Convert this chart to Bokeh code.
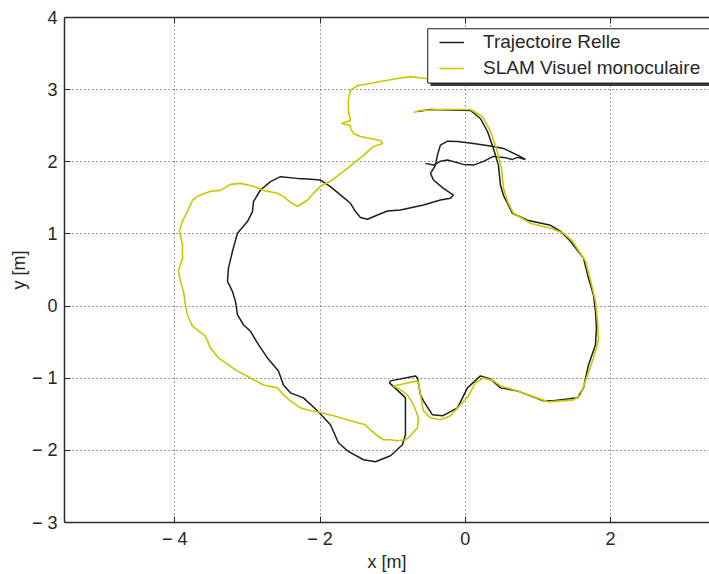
from bokeh.plotting import figure
from bokeh.models import (Range1d, LinearAxis, FixedTicker, Legend, LegendItem)
from bokeh.embed import file_html
from bokeh.resources import INLINE

# Ground-truth trajectory (x, y in metres)
real_x = [-0.548, -0.438, -0.342, -0.245, -0.025, 0.113, 0.251, 0.388, 0.526, 0.650,
          0.719, 0.829, 0.719, 0.526, 0.388, 0.113, -0.107, -0.245, -0.342, -0.383,
          -0.410, -0.479, -0.438, -0.300, -0.163, -0.204, -0.342, -0.576, -0.893, -1.072,
          -1.209, -1.347, -1.444, -1.512, -1.581, -1.691, -1.857, -1.994, -2.174, -2.311,
          -2.545, -2.683, -2.821, -2.917, -2.931, -3.000, -3.138, -3.207, -3.262, -3.275,
          -3.207, -3.165, -3.138, -3.055, -2.959, -2.848, -2.725, -2.573, -2.504, -2.408,
          -2.229, -2.036, -1.857, -1.747, -1.623, -1.402, -1.237, -1.030, -0.865, -0.824,
          -0.824, -0.851, -1.044, -1.030, -0.686, -0.658, -0.617, -0.576, -0.452, -0.314,
          -0.107, 0.030, 0.209, 0.347, 0.485, 0.719, 1.077, 1.215, 1.545, 1.628,
          1.697, 1.793, 1.807, 1.793, 1.766, 1.697, 1.628, 1.449, 1.311, 1.174,
          0.857, 0.650, 0.526, 0.485, 0.457, 0.388, 0.306, 0.209, 0.072, -0.479, -0.658]
real_y = [1.978, 1.954, 2.006, 2.024, 1.964, 1.954, 2.006, 2.075, 2.061, 2.033,
          2.061, 2.033, 2.093, 2.185, 2.213, 2.254, 2.282, 2.286, 2.231, 2.093,
          1.954, 1.840, 1.747, 1.632, 1.539, 1.494, 1.470, 1.401, 1.332, 1.318,
          1.263, 1.203, 1.227, 1.310, 1.425, 1.517, 1.656, 1.747, 1.761, 1.770,
          1.794, 1.725, 1.609, 1.448, 1.310, 1.171, 1.010, 0.757, 0.526, 0.342,
          0.203, 0.065, -0.120, -0.259, -0.350, -0.535, -0.719, -0.899, -1.093, -1.203,
          -1.272, -1.452, -1.646, -1.895, -2.006, -2.130, -2.158, -2.075, -1.923, -1.784,
          -1.272, -1.245, -1.065, -1.037, -0.968, -0.996, -1.231, -1.314, -1.508, -1.521,
          -1.411, -1.134, -0.968, -1.010, -1.134, -1.176, -1.314, -1.314, -1.272, -1.134,
          -0.816, -0.539, -0.304, -0.069, 0.152, 0.387, 0.664, 0.899, 1.037, 1.120,
          1.189, 1.286, 1.535, 1.674, 1.950, 2.185, 2.420, 2.600, 2.711, 2.725, 2.697]

# Monocular visual SLAM estimate (x, y in metres)
slam_x = [-0.713, -0.617, -0.342, 0.072, 0.237, 0.347, 0.430, 0.499, 0.526, 0.581,
          0.664, 0.898, 1.174, 1.353, 1.477, 1.656, 1.725, 1.793, 1.821, 1.835,
          1.766, 1.656, 1.587, 1.490, 1.146, 0.719, 0.485, 0.388, 0.251, 0.140,
          0.044, -0.066, -0.204, -0.342, -0.479, -0.576, -0.617, -0.645, -0.658, -0.989,
          -0.934, -0.796, -0.713, -0.645, -0.658, -0.755, -0.824, -0.934, -1.030, -1.127,
          -1.209, -1.306, -1.375, -1.485, -1.623, -1.815, -2.036, -2.132, -2.270, -2.408,
          -2.504, -2.587, -2.780, -2.959, -3.165, -3.399, -3.510, -3.579, -3.758, -3.826,
          -3.854, -3.882, -3.923, -3.950, -3.895, -3.895, -3.937, -3.895, -3.826, -3.758,
          -3.689, -3.510, -3.372, -3.234, -3.096, -2.917, -2.780, -2.587, -2.504, -2.408,
          -2.311, -2.174, -2.091, -1.994, -1.857, -1.623, -1.402, -1.264, -1.140, -1.168,
          -1.306, -1.444, -1.540, -1.581, -1.581, -1.705, -1.581, -1.609, -1.609, -1.581,
          -1.485, -1.306, -1.168, -0.934, -0.755, -0.548, -0.342]
slam_y = [2.683, 2.711, 2.725, 2.725, 2.628, 2.420, 2.185, 1.909, 1.632, 1.452,
          1.286, 1.148, 1.079, 1.010, 0.899, 0.622, 0.360, 0.069, -0.194, -0.470,
          -0.719, -1.037, -1.231, -1.300, -1.328, -1.176, -1.107, -1.037, -0.996, -1.065,
          -1.245, -1.369, -1.521, -1.577, -1.549, -1.452, -1.231, -1.065, -1.037, -1.107,
          -1.134, -1.231, -1.369, -1.549, -1.687, -1.798, -1.853, -1.867, -1.853, -1.853,
          -1.798, -1.715, -1.646, -1.618, -1.577, -1.521, -1.466, -1.452, -1.411, -1.314,
          -1.231, -1.134, -1.093, -0.996, -0.885, -0.719, -0.581, -0.415, -0.277, -0.124,
          0.014, 0.207, 0.346, 0.484, 0.664, 0.844, 1.037, 1.176, 1.314, 1.466,
          1.521, 1.591, 1.604, 1.687, 1.701, 1.660, 1.604, 1.563, 1.521, 1.438,
          1.383, 1.466, 1.563, 1.660, 1.729, 1.909, 2.089, 2.213, 2.254, 2.296,
          2.324, 2.351, 2.393, 2.462, 2.503, 2.531, 2.573, 2.697, 2.877, 2.988,
          3.057, 3.084, 3.112, 3.154, 3.181, 3.154, 3.154]

x_ticks = [-4, -2, 0, 2]
y_ticks = [-3, -2, -1, 0, 1, 2, 3, 4]
series_labels = ["Trajectoire Relle", "SLAM Visuel monoculaire"]

FONT = "Liberation Sans"
TXT = "#262626"
AX = "#2a2a2a"


def tick_text(v):
    return "\u2212 %d" % abs(v) if v < 0 else "%d" % v


p = figure(width=709, height=574, output_backend="svg", toolbar_location=None,
           x_range=Range1d(-5.52, 3.364), y_range=Range1d(-3, 4),
           x_axis_location=None, y_axis_location=None,
           min_border_left=64, min_border_right=0, min_border_top=17, min_border_bottom=50)
p.outline_line_color = None
p.background_fill_color = "white"
p.border_fill_color = "white"


def style_axis(ax, ticks):
    ax.ticker = FixedTicker(ticks=ticks)
    ax.major_label_overrides = {t: tick_text(t) for t in ticks}
    ax.minor_tick_line_color = None
    ax.major_tick_in = 6
    ax.major_tick_out = 0
    ax.axis_line_color = AX
    ax.axis_line_width = 1.5
    ax.major_tick_line_color = AX
    ax.major_tick_line_width = 1
    ax.major_label_text_font = FONT
    ax.major_label_text_font_size = "18px"
    ax.major_label_text_color = TXT
    ax.axis_label_text_font = FONT
    ax.axis_label_text_font_size = "18px"
    ax.axis_label_text_font_style = "normal"
    ax.axis_label_text_color = TXT


xaxis = LinearAxis(axis_label="x [m]")
style_axis(xaxis, x_ticks)
xaxis.major_label_standoff = 6
xaxis.axis_label_standoff = 0
p.add_layout(xaxis, "below")

yaxis = LinearAxis(axis_label="y [m]")
style_axis(yaxis, y_ticks)
yaxis.major_label_standoff = 7
yaxis.axis_label_standoff = 0
p.add_layout(yaxis, "left")

# upper frame edge with inward ticks, no labels
top_axis = LinearAxis()
style_axis(top_axis, x_ticks)
top_axis.major_label_text_color = None
top_axis.major_label_text_font_size = "1px"
top_axis.major_label_standoff = 0
p.add_layout(top_axis, "above")

p.xgrid.ticker = FixedTicker(ticks=x_ticks)
p.ygrid.ticker = FixedTicker(ticks=y_ticks)
for g in (p.xgrid, p.ygrid):
    g.grid_line_color = "#3c3c3c"
    g.grid_line_dash = "1 3"
    g.grid_line_width = 1

r_real = p.line(real_x, real_y, line_color="#1e1e1e", line_width=1.5)
r_slam = p.line(slam_x, slam_y, line_color="#c8c800", line_width=1.6)

# legend frame with drop shadow
p.quad(left=[-0.479], right=[3.6], top=[3.806], bottom=[3.050],
       fill_color="#3a3a3a", line_color=None)
p.quad(left=[-0.517], right=[3.6], top=[3.844], bottom=[3.091],
       fill_color="white", line_color="#1a1a1a", line_width=1)

legend = Legend(items=[LegendItem(label=series_labels[0], renderers=[r_real]),
                       LegendItem(label=series_labels[1], renderers=[r_slam])],
                location=(375, 443), padding=0, spacing=4, margin=0,
                glyph_width=25, glyph_height=22, label_height=22, label_standoff=19,
                border_line_color=None, background_fill_alpha=0,
                label_text_font=FONT, label_text_font_size="19px", label_text_color=TXT)
p.add_layout(legend)

open("out.html", "w").write(file_html(p, INLINE))
